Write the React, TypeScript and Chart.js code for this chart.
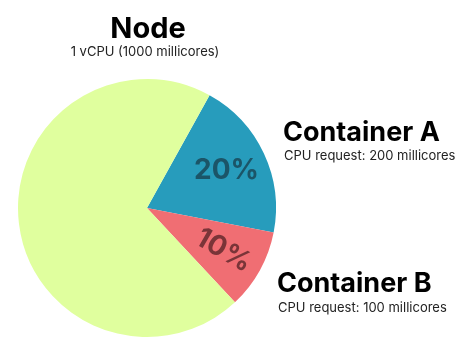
import React, { useEffect, useRef } from "react";
import { Chart, registerables } from "chart.js";

Chart.register(...registerables);

const categories = ["Container A", "Container B", "Node (unrequested)"];
const values = [20, 10, 70];
const percentLabels = ["20%", "10%", ""];
const subtitles = ["CPU request: 200 millicores", "CPU request: 100 millicores"];
const chartTitle = "Node";
const chartSubtitle = "1 vCPU (1000 millicores)";

const labelPlugin = {
  id: "cpuLabels",
  afterDraw(chart: any) {
    const ctx = chart.ctx;
    const meta = chart.getDatasetMeta(0);
    const arc0 = meta.data[0];
    const cx = arc0.x;
    ctx.save();
    // title
    ctx.fillStyle = "#000";
    ctx.textAlign = "center";
    ctx.textBaseline = "alphabetic";
    ctx.font = "bold 29px Inter";
    ctx.fillText(chartTitle, cx + 1, 38);
    ctx.fillStyle = "#222";
    ctx.font = "13px Inter";
    ctx.fillText(chartSubtitle, cx - 2, 56);

    // percent labels inside slices
    const rot = [0, 30, 0];
    const cols = ["#1b5568", "#7a3438", "#000"];
    meta.data.forEach((arc: any, i: number) => {
      if (!percentLabels[i]) return;
      const mid = (arc.startAngle + arc.endAngle) / 2;
      const r = arc.outerRadius * 0.68;
      const x = arc.x + Math.cos(mid) * r;
      const y = arc.y + Math.sin(mid) * r;
      ctx.save();
      ctx.translate(x, y);
      ctx.rotate((rot[i] * Math.PI) / 180);
      ctx.fillStyle = cols[i];
      ctx.font = "bold 28px Inter";
      ctx.textAlign = "center";
      ctx.textBaseline = "middle";
      ctx.fillText(percentLabels[i], 0, 0);
      ctx.restore();
    });

    // side labels
    const pos = [
      { x: 283, y: 141, sy: 160 },
      { x: 277, y: 292, sy: 312 },
    ];
    ctx.textAlign = "left";
    pos.forEach((p, i) => {
      ctx.fillStyle = "#000";
      ctx.font = "bold 27px Inter";
      ctx.fillText(categories[i], p.x, p.y);
      ctx.fillStyle = "#222";
      ctx.font = "13px Inter";
      ctx.fillText(subtitles[i], p.x + 1, p.sy);
    });
    ctx.restore();
  },
};

export default function App() {
  const ref = useRef<HTMLCanvasElement>(null);
  useEffect(() => {
    document.body.style.margin = "0";
    const chart = new Chart(ref.current!, {
      type: "pie",
      data: {
        labels: categories,
        datasets: [
          {
            data: values,
            backgroundColor: ["#279cbc", "#f06e73", "#e0ff9e"],
            borderWidth: 0,
          },
        ],
      },
      options: {
        animation: false,
        responsive: false,
        rotation: 29,
        layout: { padding: { left: 18, right: 199, top: 79, bottom: 22 } },
        plugins: {
          legend: { display: false },
          tooltip: { enabled: false },
          title: { display: false },
        },
      },
      plugins: [labelPlugin],
    });
    return () => chart.destroy();
  }, []);
  return (
    <div style={{ width: 475, height: 359 }}>
      <canvas ref={ref} width={475} height={359} style={{ display: "block" }} />
    </div>
  );
}
